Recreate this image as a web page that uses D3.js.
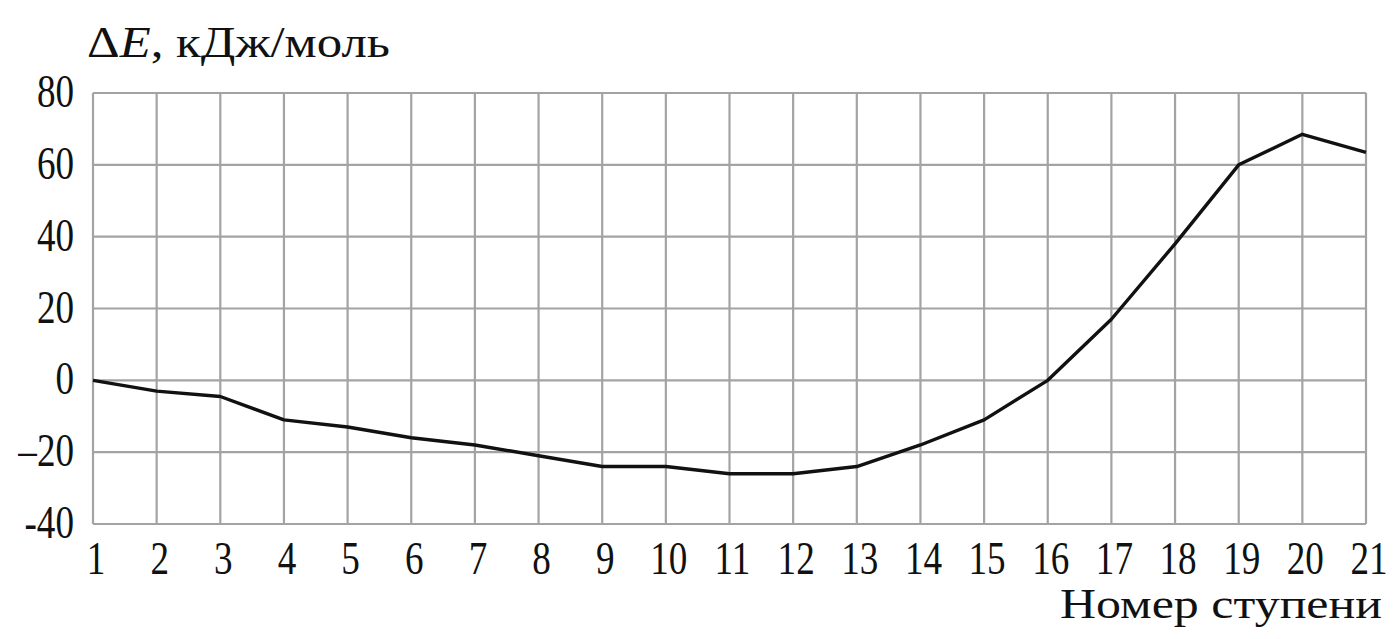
<!DOCTYPE html>
<html>
<head>
<meta charset="utf-8">
<script src="https://cdn.jsdelivr.net/npm/d3@7"></script>
<style>
  body { margin: 0; background: #fff; }
</style>
</head>
<body>
<div id="chart"></div>
<script>
// data
var steps = [1, 2, 3, 4, 5, 6, 7, 8, 9, 10, 11, 12, 13, 14, 15, 16, 17, 18, 19, 20, 21];
var energy = [0, -3, -4.5, -11, -13, -16, -18, -21, -24, -24, -26, -26, -24, -18, -11, 0, 17, 38, 60, 68.5, 63.5];
var yTicks = [-40, -20, 0, 20, 40, 60, 80];
var yTickLabels = ["-40", "\u201320", "0", "20", "40", "60", "80"];

const width = 1398;
const height = 639;
const margin = { top: 93, right: 32, bottom: 115, left: 93 };
const serif = "'Liberation Serif'";
const tickSize = 47;
const squeeze = 0.79;   // tick digits look condensed in the original

var svg = d3.select("#chart").append("svg")
	.attr("width", width)
	.attr("height", height);

var x = d3.scaleLinear()
	.domain([1, 21])
	.range([margin.left, width - margin.right]);

var y = d3.scaleLinear()
	.domain([-40, 80])
	.range([height - margin.bottom, margin.top]);

// grid
var grid = svg.append("g").attr("stroke", "#a3a3a3").attr("stroke-width", 2.2);

grid.selectAll("line.v")
	.data(steps)
	.enter().append("line")
	.attr("class", "v")
	.attr("x1", d => x(d)).attr("x2", d => x(d))
	.attr("y1", y(80)).attr("y2", y(-40));

grid.selectAll("line.h")
	.data(yTicks)
	.enter().append("line")
	.attr("class", "h")
	.attr("x1", x(1)).attr("x2", x(21))
	.attr("y1", d => y(d)).attr("y2", d => y(d));

// y tick labels
svg.append("g").selectAll("text")
	.data(yTicks)
	.enter().append("text")
	.attr("transform", d => "translate(74," + (y(d) + 14) + ") scale(" + squeeze + ",1)")
	.attr("text-anchor", "end")
	.attr("font-size", tickSize)
	.style("font-family", serif)
	.style("fill", "#111")
	.text((d, i) => yTickLabels[i]);

// x tick labels
svg.append("g").selectAll("text")
	.data(steps)
	.enter().append("text")
	.attr("transform", d => "translate(" + (x(d) + 3) + ",574) scale(" + squeeze + ",1)")
	.attr("text-anchor", "middle")
	.attr("font-size", tickSize)
	.style("font-family", serif)
	.style("fill", "#111")
	.text(d => d);

// line
var line = d3.line()
	.x((d, i) => x(steps[i]))
	.y(d => y(d));

svg.append("path")
	.datum(energy)
	.attr("fill", "none")
	.attr("stroke", "#111")
	.attr("stroke-width", 3.4)
	.attr("stroke-linejoin", "round")
	.attr("d", line);

// axis titles
var yTitle = svg.append("text")
	.attr("x", 87)
	.attr("y", 57)
	.attr("font-size", 44)
	.attr("textLength", 303)
	.attr("lengthAdjust", "spacingAndGlyphs")
	.style("font-family", serif)
	.style("fill", "#111");
yTitle.append("tspan").text("\u0394");
yTitle.append("tspan").attr("font-style", "italic").text("E");
yTitle.append("tspan").text(", кДж/моль");

svg.append("text")
	.attr("x", 1060)
	.attr("y", 618)
	.attr("font-size", 43)
	.attr("textLength", 322)
	.attr("lengthAdjust", "spacingAndGlyphs")
	.style("font-family", serif)
	.style("fill", "#111")
	.text("Номер ступени");
</script>
</body>
</html>
